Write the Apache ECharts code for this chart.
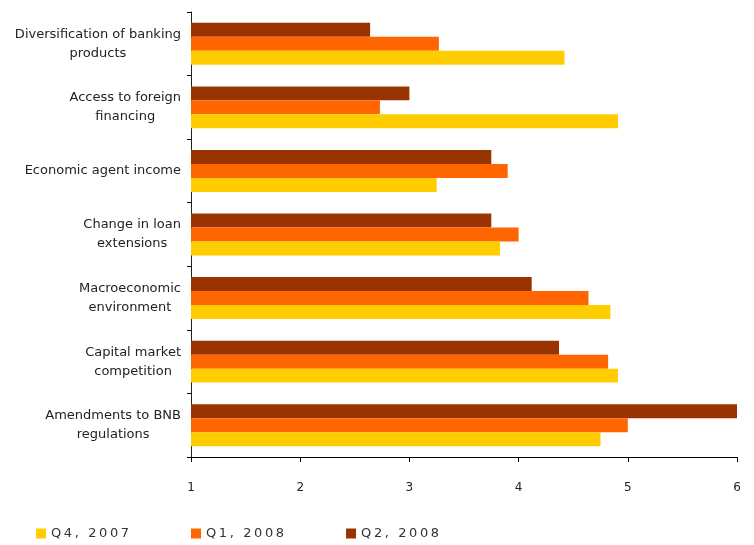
<!DOCTYPE html>
<html>
<head>
<meta charset="utf-8">
<script src="https://cdn.jsdelivr.net/npm/echarts@6/dist/echarts.min.js"></script>
<style>
  html, body { margin: 0; padding: 0; background: #fff; }
  #chart { width: 754px; height: 545px; }
</style>
</head>
<body>
<div id="chart"></div>
<script>
// Factors, listed top to bottom
const categories = [
  'Diversification of banking\nproducts',
  'Access to foreign\nfinancing',
  'Economic agent income',
  'Change in loan\nextensions',
  'Macroeconomic\nenvironment',
  'Capital market\ncompetition',
  'Amendments to BNB\nregulations'
];

const seriesNames = ['Q4, 2007', 'Q1, 2008', 'Q2, 2008'];
const q4_2007 = [4.42, 4.91, 3.25, 3.83, 4.84, 4.91, 4.75];
const q1_2008 = [3.27, 2.73, 3.90, 4.00, 4.64, 4.82, 5.00];
const q2_2008 = [2.64, 3.00, 3.75, 3.75, 4.12, 4.37, 6.00];

const xTicks = { min: 1, max: 6, interval: 1 };

const colors = { 'Q4, 2007': '#FFCC00', 'Q1, 2008': '#FF6600', 'Q2, 2008': '#993300' };
const valuesByName = { 'Q4, 2007': q4_2007, 'Q1, 2008': q1_2008, 'Q2, 2008': q2_2008 };

const FONT = 'DejaVu Sans';

// Spread legend characters out a little
const spaced = s => s.split('').join('\u2009');

// Series drawn with the newest quarter on top of each group
const drawOrder = ['Q2, 2008', 'Q1, 2008', 'Q4, 2007'];

const chart = echarts.init(document.getElementById('chart'), null, { renderer: 'canvas' });
chart.setOption({
  animation: false,
  backgroundColor: '#ffffff',
  grid: { left: 191, right: 17, top: 12, bottom: 88, containLabel: false },
  legend: {
    data: seriesNames,
    left: 31,
    bottom: 0,
    itemWidth: 10,
    itemHeight: 10,
    itemGap: 62,
    icon: 'rect',
    formatter: name => spaced(name),
    textStyle: { fontFamily: FONT, fontSize: 13, color: '#333' }
  },
  xAxis: {
    type: 'value',
    min: xTicks.min,
    max: xTicks.max,
    interval: xTicks.interval,
    splitLine: { show: false },
    axisLine: { show: true, lineStyle: { color: '#000', width: 1 } },
    axisTick: { show: true, length: 5, lineStyle: { color: '#000' } },
    axisLabel: { fontFamily: FONT, fontSize: 12, color: '#222', margin: 25 }
  },
  yAxis: {
    type: 'category',
    data: categories,
    inverse: true,
    axisLine: { show: true, lineStyle: { color: '#222', width: 1 } },
    axisTick: { show: true, length: 4, inside: false, lineStyle: { color: '#000' } },
    axisLabel: {
      margin: 10,
      formatter: v => v.split('\n').map(l => '{c|' + l + '}').join('\n'),
      rich: {
        c: { fontFamily: FONT, fontSize: 13, color: '#222', align: 'center', lineHeight: 19 }
      }
    }
  },
  series: drawOrder.map(name => ({
    name: name,
    type: 'bar',
    data: valuesByName[name],
    itemStyle: { color: colors[name] },
    barGap: '0%',
    barCategoryGap: '34%'
  }))
});
</script>
</body>
</html>
